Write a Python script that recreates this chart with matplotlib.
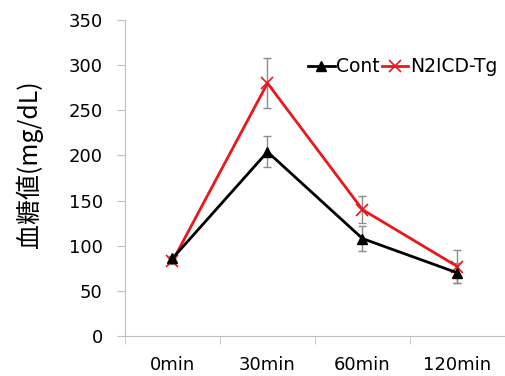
import matplotlib.pyplot as plt
import numpy as np

plt.rcParams['font.family'] = ['DejaVu Sans', 'Noto Sans CJK JP']

times = ['0min', '30min', '60min', '120min']
cont = [86, 204, 108, 70]
cont_err = [3, 17, 14, 11]
tg = [83, 280, 140, 77]
tg_err = [3, 28, 15, 18]

fig = plt.figure(figsize=(5.06, 3.76), dpi=100)
ax = fig.add_axes([0.247, 0.106, 0.751, 0.841])

x = np.arange(len(times))
ax.errorbar(x, cont, yerr=cont_err, fmt='none', ecolor='#8c8c8c', elinewidth=1, capsize=3, zorder=1)
ax.errorbar(x, tg, yerr=tg_err, fmt='none', ecolor='#8c8c8c', elinewidth=1, capsize=3, zorder=1)
ax.plot(x, cont, color='black', marker='^', markersize=7, linewidth=2, label='Cont', zorder=3)
ax.plot(x, tg, color='#e8181c', marker='x', markersize=8, markeredgewidth=1.2, linewidth=2,
        label='N2ICD-Tg', zorder=2)

ax.set_xlim(-0.5, 3.5)
ax.set_ylim(0, 350)
ax.set_yticks(np.arange(0, 351, 50))
ax.set_xticks(x)
ax.set_xticklabels(times)
ax.set_xticks(np.arange(-0.5, 3.6, 1), minor=True)
ax.tick_params(axis='x', which='major', length=0, pad=14, labelsize=13)
ax.tick_params(axis='x', which='minor', length=6, color='#bfbfbf', direction='out')
ax.tick_params(axis='y', length=6, color='#bfbfbf', labelsize=13, pad=10)

for s in ['top', 'right']:
    ax.spines[s].set_visible(False)
for s in ['left', 'bottom']:
    ax.spines[s].set_color('#bfbfbf')

ax.set_ylabel('血糖値(mg/dL)', fontsize=18, family=['Noto Sans CJK JP'])
ax.yaxis.set_label_coords(-0.215, 0.545)

ax.legend(loc='upper right', bbox_to_anchor=(1.0, 0.905), ncol=2, frameon=False, fontsize=13.5,
          handlelength=1.4, handletextpad=0.1, columnspacing=0.1, borderaxespad=0)

fig.savefig('out.png', dpi=100)
